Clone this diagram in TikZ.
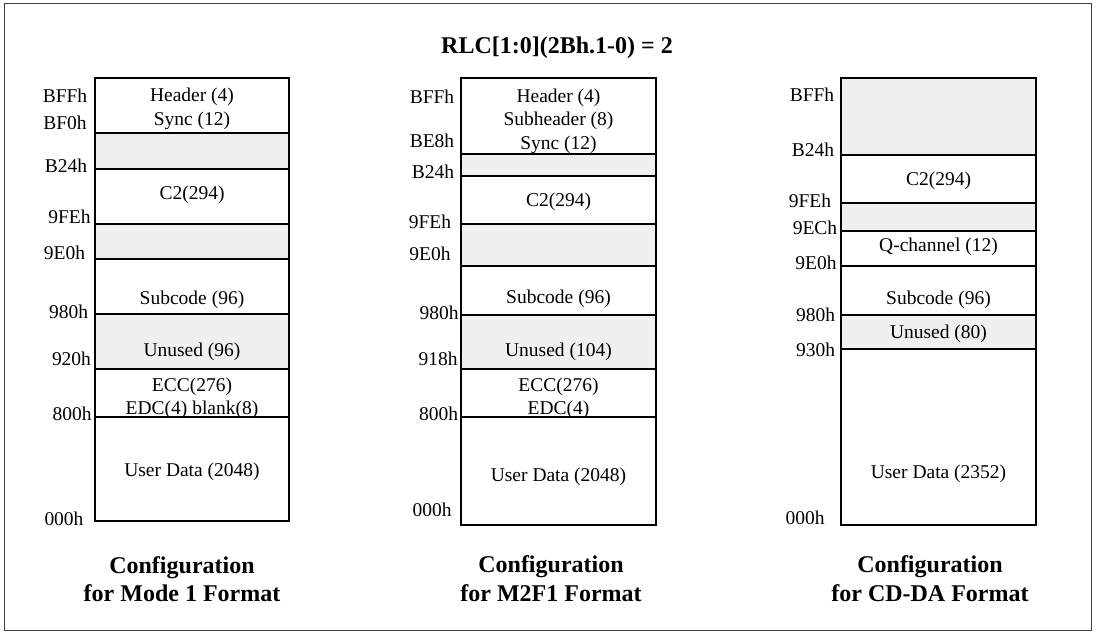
\documentclass[tikz,border=0pt]{standalone}
\usepackage{fontspec}
\setmainfont{Liberation Serif}
\begin{document}
\begin{tikzpicture}[x=1pt,y=-1pt,
  txt/.style={inner sep=0pt,anchor=base,font=\fontsize{19.5}{21}\selectfont},
  addr/.style={inner sep=0pt,anchor=base,font=\fontsize{19.5}{21}\selectfont},
  ttl/.style={inner sep=0pt,anchor=base,font=\fontsize{24}{26}\selectfont\bfseries},
  unused/.style={fill=black!6,draw=none},
  sep/.style={line width=1.8pt},
  mapbox/.style={line width=1.8pt,draw=black}]
\useasboundingbox (0,0) rectangle (1096,632);
\draw[line width=1pt,draw=black!75] (4,3) rectangle (1091,630);
\node[ttl] (main) at (557,53) {RLC[1:0](2Bh.1-0) = 2};

% ---------- column 1 ----------
\fill[unused] (95,133) rectangle (289,169);
\fill[unused] (95,224) rectangle (289,259);
\fill[unused] (95,314) rectangle (289,369);
\foreach \y in {133,169,224,259,314,369,417} \draw[sep] (95,\y) -- (289,\y);
\draw[mapbox] (95,78) rectangle (289,521);
\node[txt] (a1) at (192,101.5) {Header (4)};
\node[txt] (a2) at (192,125) {Sync (12)};
\node[txt] (a3) at (192,199.5) {C2(294)};
\node[txt] (a4) at (192,304.5) {Subcode (96)};
\node[txt] (a5) at (192,356.5) {Unused (96)};
\node[txt] (a6) at (192,391.5) {ECC(276)};
\node[txt] (a7) at (192,414.5) {EDC(4) blank(8)};
\node[txt] (a8) at (192,476) {User Data (2048)};
\node[addr] (la1) at (65,102.5) {BFFh};
\node[addr] (la2) at (65,129.5) {BF0h};
\node[addr] (la3) at (66,172) {B24h};
\node[addr] (la4) at (69.5,223.5) {9FEh};
\node[addr] (la5) at (64.5,259.5) {9E0h};
\node[addr] (la6) at (68.5,318.5) {980h};
\node[addr] (la7) at (71.5,365.5) {920h};
\node[addr] (la8) at (72,420) {800h};
\node[addr] (la9) at (64,525.5) {000h};
\node[ttl] (ta1) at (182,573) {Configuration};
\node[ttl] (ta2) at (182,601) {for Mode 1 Format};

% ---------- column 2 ----------
\fill[unused] (461,154) rectangle (656,176);
\fill[unused] (461,224) rectangle (656,266);
\fill[unused] (461,315) rectangle (656,369);
\foreach \y in {154,176,224,266,315,369,417} \draw[sep] (461,\y) -- (656,\y);
\draw[mapbox] (461,78) rectangle (656,525);
\node[txt] (b1) at (558.5,102.5) {Header (4)};
\node[txt] (b2) at (558.5,125.5) {Subheader (8)};
\node[txt] (b3) at (558.5,149) {Sync (12)};
\node[txt] (b4) at (558.5,206.5) {C2(294)};
\node[txt] (b5) at (558.5,303.5) {Subcode (96)};
\node[txt] (b6) at (558.5,356.5) {Unused (104)};
\node[txt] (b7) at (558.5,391.5) {ECC(276)};
\node[txt] (b8) at (558.5,414.5) {EDC(4)};
\node[txt] (b9) at (558.5,481.5) {User Data (2048)};
\node[addr] (lb1) at (432,103) {BFFh};
\node[addr] (lb2) at (432,147) {BE8h};
\node[addr] (lb3) at (433,178) {B24h};
\node[addr] (lb4) at (430,228.5) {9FEh};
\node[addr] (lb5) at (430,260.5) {9E0h};
\node[addr] (lb6) at (439,319.5) {980h};
\node[addr] (lb7) at (438,365.5) {918h};
\node[addr] (lb8) at (438.5,420.5) {800h};
\node[addr] (lb9) at (432,516.5) {000h};
\node[ttl] (tb1) at (551,572) {Configuration};
\node[ttl] (tb2) at (551,601) {for M2F1 Format};

% ---------- column 3 ----------
\fill[unused] (841,78) rectangle (1036,155);
\fill[unused] (841,203) rectangle (1036,231);
\fill[unused] (841,315) rectangle (1036,349);
\foreach \y in {155,203,231,266,315,349} \draw[sep] (841,\y) -- (1036,\y);
\draw[mapbox] (841,78) rectangle (1036,525);
\node[txt] (c1) at (938.5,185.5) {C2(294)};
\node[txt] (c2) at (938.5,251.5) {Q-channel (12)};
\node[txt] (c3) at (938.5,304.5) {Subcode (96)};
\node[txt] (c4) at (938.5,338.5) {Unused (80)};
\node[txt] (c5) at (938.5,478.5) {User Data (2352)};
\node[addr] (lc1) at (812,101.5) {BFFh};
\node[addr] (lc2) at (813,156.5) {B24h};
\node[addr] (lc3) at (810,207.5) {9FEh};
\node[addr] (lc4) at (815,234.5) {9ECh};
\node[addr] (lc5) at (816,269) {9E0h};
\node[addr] (lc6) at (815.5,321.5) {980h};
\node[addr] (lc7) at (815.5,356.5) {930h};
\node[addr] (lc8) at (805,524.5) {000h};
\node[ttl] (tc1) at (930,572) {Configuration};
\node[ttl] (tc2) at (930,601) {for CD-DA Format};
\end{tikzpicture}
\end{document}
